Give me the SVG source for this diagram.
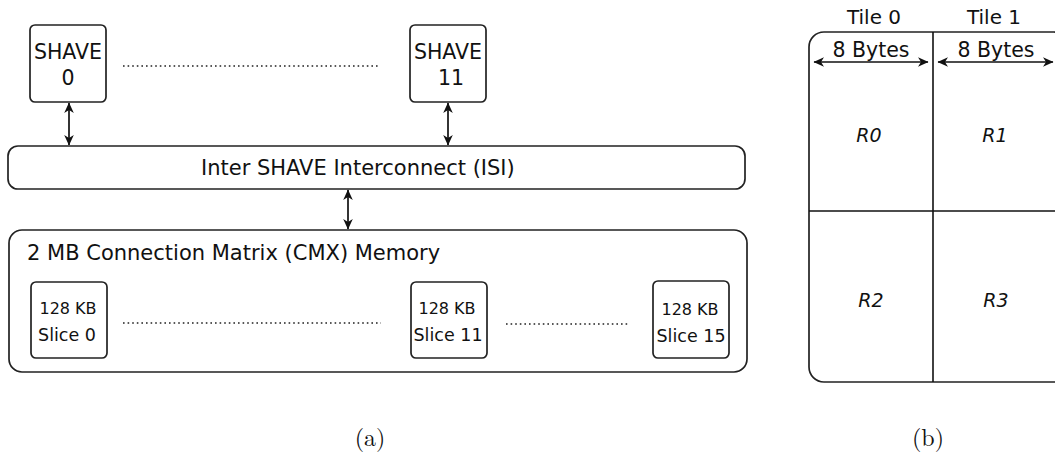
<svg xmlns="http://www.w3.org/2000/svg" width="1055" height="460" viewBox="0 0 1055 460">
<style>
.box{fill:#fff;stroke:#222;stroke-width:1.7}
.t{font-family:"DejaVu Sans",sans-serif;fill:#111}
.c{text-anchor:middle}
.dot{stroke:#222;stroke-width:1.6;stroke-dasharray:1.6 3}
.ln{stroke:#111;stroke-width:1.6;fill:none}
.ar{stroke:#111;stroke-width:1.7;fill:none;marker-start:url(#ah);marker-end:url(#ah)}
.cap{font-family:"Latin Modern Roman","Liberation Serif",serif;font-size:24px;text-anchor:middle;fill:#111}
</style>
<defs>
<marker id="ah" viewBox="-11 -6 12 12" refX="0" refY="0" markerWidth="12" markerHeight="12" markerUnits="userSpaceOnUse" orient="auto-start-reverse">
<path d="M0.5,0 L-10,-4.8 L-7,0 L-10,4.8 Z" fill="#111"/>
</marker>
</defs>

<g id="shave0">
<rect class="box" x="30" y="25" width="76" height="77" rx="5"/>
<text class="t c" x="68" y="59" font-size="20.5">SHAVE</text>
<text class="t c" x="68" y="85" font-size="20.5">0</text>
</g>
<g id="shave11">
<rect class="box" x="410" y="25" width="76" height="77" rx="5"/>
<text class="t c" x="448" y="59" font-size="20.5">SHAVE</text>
<text class="t c" x="451" y="85" font-size="20.5">11</text>
</g>
<g id="isi">
<rect class="box" x="8" y="146" width="737" height="43" rx="10"/>
<text class="t" x="201" y="175" font-size="21">Inter SHAVE Interconnect (ISI)</text>
</g>
<g id="cmx">
<rect class="box" x="9" y="230" width="738" height="142" rx="13"/>
<text class="t" x="27" y="260" font-size="21">2 MB Connection Matrix (CMX) Memory</text>
</g>
<g id="slice0">
<rect class="box" x="31" y="282" width="76" height="76" rx="5"/>
<text class="t c" x="68" y="314" font-size="16">128 KB</text>
<text class="t c" x="67" y="341" font-size="17.5">Slice 0</text>
</g>
<g id="slice11">
<rect class="box" x="411" y="282" width="76" height="76" rx="5"/>
<text class="t c" x="447" y="314" font-size="16">128 KB</text>
<text class="t c" x="448" y="341" font-size="17.5">Slice 11</text>
</g>
<g id="slice15">
<rect class="box" x="653" y="281" width="76" height="77" rx="5"/>
<text class="t c" x="690" y="315" font-size="16">128 KB</text>
<text class="t c" x="691" y="342" font-size="17.5">Slice 15</text>
</g>

<g id="connectors">
<line class="dot" x1="123" y1="66" x2="380" y2="66"/>
<line class="dot" x1="123" y1="323" x2="381" y2="323"/>
<line class="dot" x1="506" y1="324" x2="630" y2="324"/>
<line class="ar" x1="69" y1="103" x2="69" y2="145"/>
<line class="ar" x1="448" y1="103" x2="448" y2="145"/>
<line class="ar" x1="348" y1="190" x2="348" y2="229"/>
</g>

<g id="tiles">
<rect class="box" x="809" y="32" width="260" height="350" rx="15"/>
<line class="ln" x1="933" y1="32" x2="933" y2="382"/>
<line class="ln" x1="809" y1="211" x2="1055" y2="211"/>
<text class="t c" x="874" y="24" font-size="20">Tile 0</text>
<text class="t c" x="994" y="24" font-size="20">Tile 1</text>
<text class="t c" x="871" y="57" font-size="20.5">8 Bytes</text>
<text class="t c" x="996" y="57" font-size="20.5">8 Bytes</text>
<line class="ar" x1="814" y1="62" x2="928" y2="62"/>
<line class="ar" x1="938" y1="62" x2="1053" y2="62"/>
<text class="t c" x="869" y="142" font-size="19" font-style="italic">R0</text>
<text class="t c" x="995" y="142" font-size="19" font-style="italic">R1</text>
<text class="t c" x="871" y="307" font-size="19" font-style="italic">R2</text>
<text class="t c" x="996" y="307" font-size="19" font-style="italic">R3</text>
</g>

<text class="cap" x="370" y="446">(a)</text>
<text class="cap" x="928" y="446">(b)</text>
</svg>
